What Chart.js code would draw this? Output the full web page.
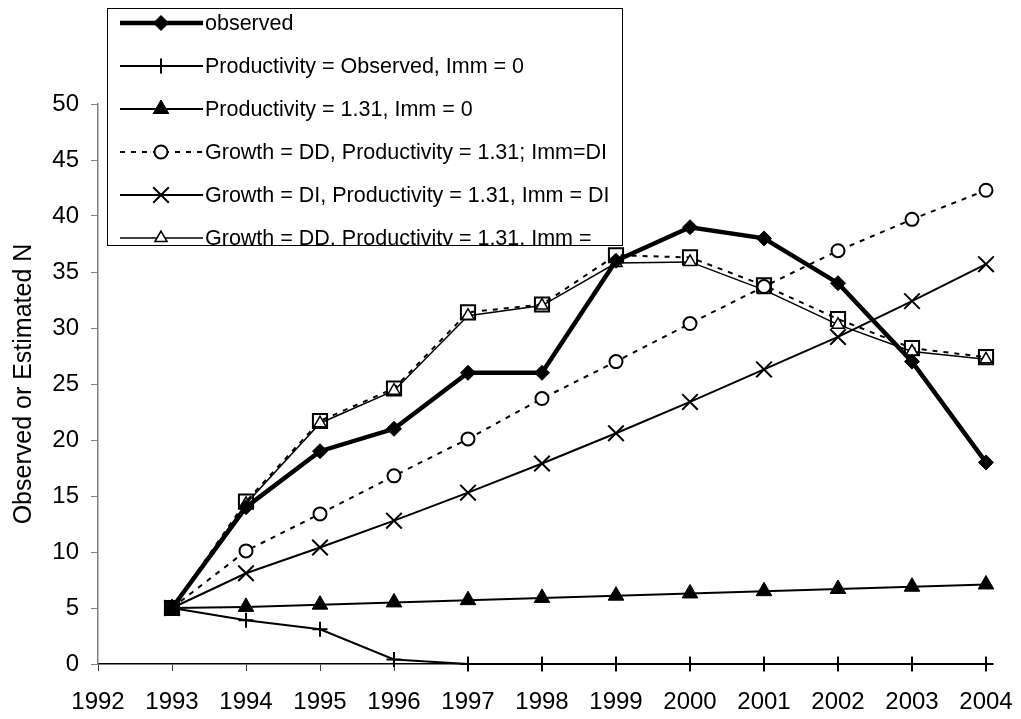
<!DOCTYPE html>
<html>
<head>
<meta charset="utf-8">
<title>Observed or Estimated N</title>
<script src="https://cdn.jsdelivr.net/npm/chart.js@4.4.0/dist/chart.umd.min.js"></script>
<style>
  html, body { margin: 0; padding: 0; background: #fff; }
  #wrap { width: 1021px; height: 719px; position: relative; }
</style>
</head>
<body>
<div id="wrap"><canvas id="chart"></canvas></div>
<script>
// years on the x axis
const years = [1993, 1994, 1995, 1996, 1997, 1998, 1999, 2000, 2001, 2002, 2003, 2004];

// series
const observed      = [5, 14, 19, 21, 26, 26, 36, 39, 38, 34, 27, 18];
const prodObsImm0   = [5, 3.9, 3.1, 0.4, 0, 0, 0, 0, 0, 0, 0, 0];
const prod131Imm0   = [5, 5.1, 5.3, 5.5, 5.7, 5.9, 6.1, 6.3, 6.5, 6.7, 6.9, 7.1];
const ddImmDI       = [5, 10.1, 13.4, 16.8, 20.1, 23.7, 27.0, 30.4, 33.7, 36.9, 39.7, 42.3];
const diImmDI       = [5, 8.1, 10.4, 12.8, 15.3, 17.9, 20.6, 23.4, 26.3, 29.2, 32.4, 35.7];
const ddTriangle    = [5, 14.3, 21.5, 24.4, 31.1, 32.0, 35.8, 35.9, 33.4, 30.3, 27.9, 27.2];
const ddSquare      = [5, 14.5, 21.7, 24.6, 31.4, 32.1, 36.5, 36.3, 33.8, 30.8, 28.2, 27.4];

const labels = [
  'observed',
  'Productivity = Observed, Imm = 0',
  'Productivity = 1.31, Imm = 0',
  'Growth = DD, Productivity = 1.31; Imm=DI',
  'Growth = DI, Productivity = 1.31, Imm = DI',
  'Growth = DD, Productivity = 1.31, Imm = ',
  'Growth = DD, Productivity = 1.31, Imm = DD'
];

const xTicks = [1992, 1993, 1994, 1995, 1996, 1997, 1998, 1999, 2000, 2001, 2002, 2003, 2004];

const FONT = '"Liberation Sans", Arial, sans-serif';

function pts(vals) {
  return vals.map((v, i) => ({ x: years[i], y: v }));
}

function series(label, vals, style, radius, fill, lineW, dash, ptW) {
  return {
    label: label,
    data: pts(vals),
    borderColor: '#000',
    borderWidth: lineW,
    borderDash: dash,
    pointStyle: style,
    pointRadius: radius,
    pointBorderWidth: ptW,
    pointBorderColor: '#000',
    pointBackgroundColor: fill,
    tension: 0,
    clip: false
  };
}

const datasets = [
  series(labels[0], observed, 'rectRot', 7.5, '#000', 4.5, [], 1),
  series(labels[1], prodObsImm0, 'cross', 7.5, '#000', 2, [], 2),
  series(labels[2], prod131Imm0, 'triangle', 9, '#000', 2, [], 1),
  series(labels[3], ddImmDI, 'circle', 6.5, '#fff', 2, [5, 6], 2),
  series(labels[4], diImmDI, 'crossRot', 11, '#000', 2, [], 2),
  series(labels[5], ddTriangle, 'triangle', 7, '#fff', 1.5, [], 1.5),
  series(labels[6], ddSquare, 'rect', 10, 'rgba(255,255,255,0)', 2, [5, 6], 2)
];

// legend box drawn over the plot, clipped like the original
const boxLegend = {
  id: 'boxLegend',
  afterDraw(chart) {
    const ctx = chart.ctx;
    const bx = 107, by = 8, bw = 515, bh = 237;
    ctx.save();
    ctx.fillStyle = '#fff';
    ctx.fillRect(bx, by, bw, bh);
    ctx.beginPath();
    ctx.rect(bx, by, bw, bh);
    ctx.clip();
    chart.data.datasets.forEach((ds, i) => {
      const y = by + 15 + i * 43;
      ctx.save();
      ctx.strokeStyle = ds.borderColor;
      ctx.lineWidth = ds.borderWidth;
      ctx.setLineDash(ds.borderDash || []);
      ctx.beginPath();
      ctx.moveTo(120, y);
      ctx.lineTo(203, y);
      ctx.stroke();
      ctx.setLineDash([]);
      ctx.fillStyle = ds.pointBackgroundColor;
      ctx.strokeStyle = ds.pointBorderColor;
      ctx.lineWidth = ds.pointBorderWidth;
      Chart.helpers.drawPoint(ctx, {
        pointStyle: ds.pointStyle,
        radius: ds.pointRadius,
        borderWidth: ds.pointBorderWidth,
        rotation: 0
      }, 161, y);
      ctx.restore();
      ctx.fillStyle = '#000';
      ctx.font = '21.5px ' + FONT;
      ctx.textBaseline = 'middle';
      ctx.textAlign = 'left';
      ctx.fillText(ds.label, 205, y + 1);
    });
    ctx.restore();
    ctx.save();
    ctx.strokeStyle = '#000';
    ctx.lineWidth = 1;
    ctx.strokeRect(bx + 0.5, by + 0.5, bw, bh);
    ctx.restore();
  }
};

new Chart(document.getElementById('chart'), {
  type: 'line',
  data: { datasets: datasets },
  options: {
    responsive: true,
    maintainAspectRatio: false,
    animation: false,
    layout: { padding: { top: 104, right: 35, bottom: 0, left: 0 } },
    plugins: {
      legend: { display: false },
      tooltip: { enabled: false }
    },
    scales: {
      x: {
        type: 'linear',
        min: 1992,
        max: 2004,
        afterBuildTicks: (scale) => { scale.ticks = xTicks.map(v => ({ value: v })); },
        afterFit: (scale) => {
          scale.height = 55;
          scale.paddingLeft = 0;
          scale.paddingRight = 0;
        },
        ticks: {
          color: '#000',
          font: { family: FONT, size: 24 },
          padding: 17,
          maxRotation: 0,
          autoSkip: false,
          callback: (v) => String(v)
        },
        grid: { drawOnChartArea: false, drawTicks: true, tickLength: 7, color: '#404040' },
        border: { color: '#000', width: 1.5 }
      },
      y: {
        min: 0,
        max: 50,
        afterFit: (scale) => {
          scale.width = 98;
          scale.paddingTop = 0;
          scale.paddingBottom = 0;
        },
        ticks: {
          stepSize: 5,
          color: '#000',
          font: { family: FONT, size: 24 },
          padding: 12
        },
        grid: { drawOnChartArea: false, drawTicks: true, tickLength: 7, color: '#808080' },
        border: { color: '#808080', width: 1.5 },
        title: {
          display: true,
          text: 'Observed or Estimated N',
          color: '#000',
          font: { family: FONT, size: 25 },
          padding: { top: 9, bottom: 0 }
        }
      }
    }
  },
  plugins: [boxLegend]
});
</script>
</body>
</html>
